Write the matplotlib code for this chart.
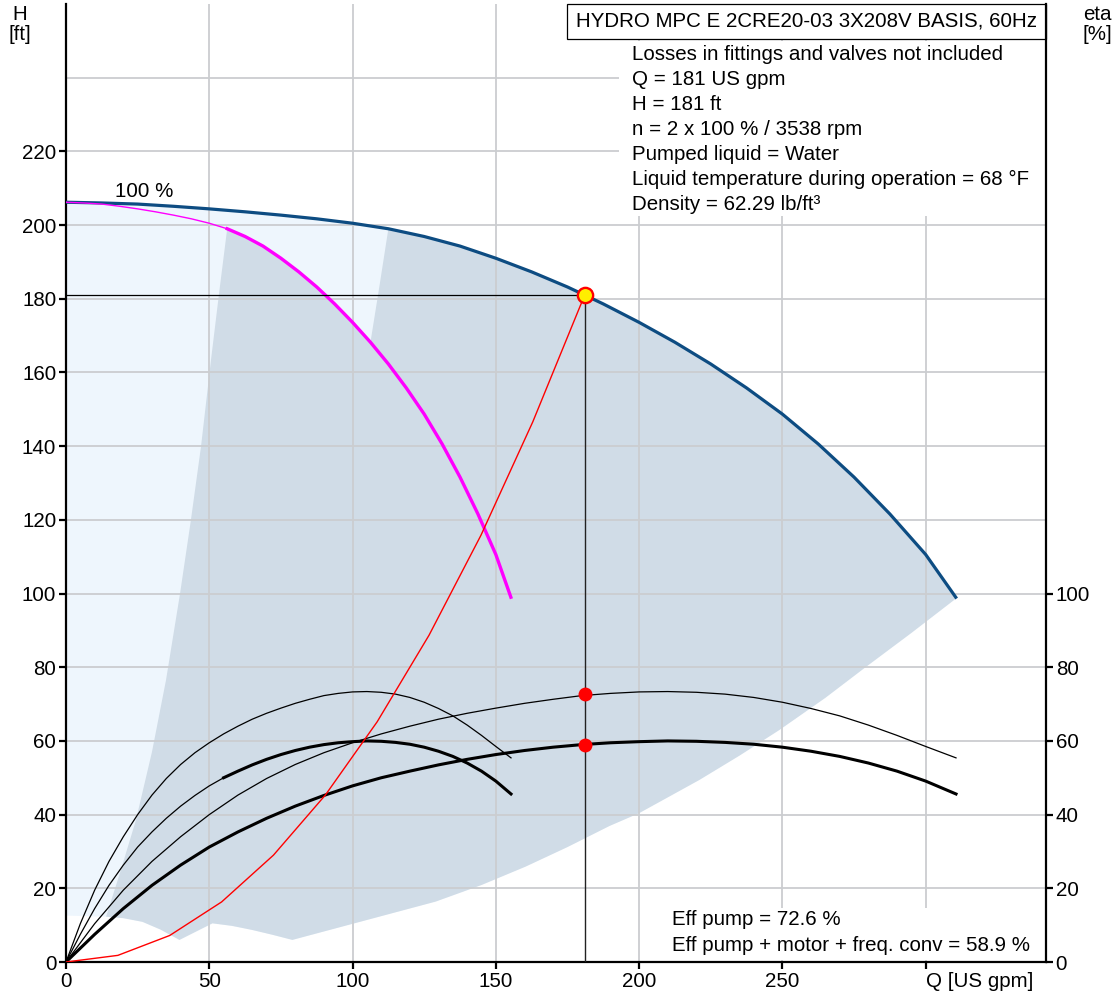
import matplotlib.pyplot as plt
from matplotlib.patches import Rectangle

plt.rcParams['font.family'] = ['Liberation Sans', 'DejaVu Sans']

# pump curve, 2 pumps at 100 %
q_pump2 = [0, 12.5, 25, 37.5, 50, 62.5, 75, 87.5, 100, 112.5, 125, 137.5, 150, 162.5, 175, 181,
           187.5, 200, 212.5, 225, 237.5, 250, 262.5, 275, 287.5, 300, 310.5]
h_pump2 = [206.2, 206.0, 205.7, 205.1, 204.4, 203.6, 202.7, 201.7, 200.5, 199.0, 196.9, 194.3, 191.0,
           187.3, 183.2, 181.0, 178.6, 173.6, 168.2, 162.3, 155.8, 148.7, 140.6, 131.6, 121.6, 110.6, 99.0]

# pump curve, 1 pump (magenta), thin up to 56.25 then thick
q_pump1 = [0, 6.25, 12.5, 18.75, 25, 31.25, 37.5, 43.75, 50, 56.25, 62.5, 68.75, 75, 81.25, 87.5, 90.5,
           93.75, 100, 106.25, 112.5, 118.75, 125, 131.25, 137.5, 143.75, 150, 155.25]
h_pump1 = [206.2, 206.0, 205.7, 205.1, 204.4, 203.6, 202.7, 201.7, 200.5, 199.0, 196.9, 194.3, 191.0,
           187.3, 183.2, 181.0, 178.6, 173.6, 168.2, 162.3, 155.8, 148.7, 140.6, 131.6, 121.6, 110.6, 99.0]

# efficiency curves (eta axis uses same scale as H)
q_eta1 = [0, 5, 10, 15, 20, 25, 30, 35, 40, 45, 50, 55, 60, 65, 70, 75, 80, 85, 90, 95, 100,
          105, 110, 115, 120, 125, 130, 135, 140, 145, 150, 155.3]
eta_pump1 = [0, 10.4, 19.5, 27.3, 34.0, 40.0, 45.3, 49.8, 53.6, 56.8, 59.5, 61.9, 64.0, 65.9, 67.5,
             68.9, 70.2, 71.3, 72.3, 72.9, 73.3, 73.4, 73.2, 72.7, 71.8, 70.5, 68.8, 66.8, 64.3,
             61.5, 58.5, 55.4]
eta_tot1 = [0, 7.5, 14.5, 20.8, 26.3, 31.2, 35.3, 39.0, 42.3, 45.2, 47.8, 50.0, 51.8, 53.5, 55.0,
            56.3, 57.4, 58.3, 59.0, 59.5, 59.8, 60.0, 59.9, 59.6, 59.1, 58.3, 57.2, 55.8, 54.0,
            51.8, 49.1, 45.6]

q_eta2 = [0, 10, 20, 30, 40, 50, 60, 70, 80, 90, 100, 110, 120, 130, 140, 150, 160, 170, 180, 190,
          200, 210, 220, 230, 240, 250, 260, 270, 280, 290, 300, 310.6]
eta_pump2 = [0, 10.4, 19.5, 27.3, 34.0, 40.0, 45.3, 49.8, 53.6, 56.8, 59.5, 61.9, 64.0, 65.9, 67.5,
             68.9, 70.2, 71.3, 72.3, 72.9, 73.3, 73.4, 73.2, 72.7, 71.8, 70.5, 68.8, 66.8, 64.3,
             61.5, 58.5, 55.4]
eta_tot2 = [0, 7.5, 14.5, 20.8, 26.3, 31.2, 35.3, 39.0, 42.3, 45.2, 47.8, 50.0, 51.8, 53.5, 55.0,
            56.3, 57.4, 58.3, 59.0, 59.5, 59.8, 60.0, 59.9, 59.6, 59.1, 58.3, 57.2, 55.8, 54.0,
            51.8, 49.1, 45.6]

# system curve through duty point
q_sys = [0, 18.1, 36.2, 54.3, 72.4, 90.5, 108.6, 126.7, 144.8, 162.9, 181]
h_sys = [0, 1.8, 7.2, 16.3, 29.0, 45.3, 65.2, 88.7, 115.8, 146.6, 181]

# operating range outline
q_bottom = [0, 14, 20, 26.7, 33, 39.6, 51.1, 58, 65, 72, 79, 129, 145, 160.4, 175, 189.6, 200, 221,
            235, 249, 265, 279, 295, 310.5]
h_bottom = [12.6, 12.3, 11.9, 10.9, 8.8, 6.0, 10.5, 9.8, 8.7, 7.4, 6.0, 16.4, 20.9, 25.9, 31.2,
            36.9, 40.4, 49.4, 56.0, 63.0, 71.7, 80.0, 89.3, 98.6]
q_left1 = [14, 19, 24.4, 30, 34.9, 39.8, 43.6, 47.1, 50.6, 53.5, 56.25]
h_left1 = [12.3, 24.6, 38.5, 57, 76.5, 100, 120, 139.8, 163.4, 182, 199.0]
q_left2 = [106.25, 109.4, 112.5]
h_left2 = [168.2, 183.5, 199.0]

q_duty, h_duty = 181, 181
eff_pump, eff_total = 72.6, 58.9

info_lines = [
    'Losses in fittings and valves not included',
    'Q = 181 US gpm',
    'H = 181 ft',
    'n = 2 x 100 % / 3538 rpm',
    'Pumped liquid = Water',
    'Liquid temperature during operation = 68 °F',
    'Density = 62.29 lb/ft³',
]

fig = plt.figure(figsize=(11.16, 9.94), dpi=100)
ax = fig.add_axes([66 / 1116, 32 / 994, 980 / 1116, 958 / 994])
ax.set_xlim(0, 342)
ax.set_ylim(0, 260)

grid_c = '#cbcdd0'
fs = 14.8

# shaded areas
ax.fill(q_pump2 + q_bottom[::-1], h_pump2 + h_bottom[::-1], color='#eef6fd', lw=0, zorder=0.2)
i_mag0 = q_pump1.index(56.25)
i_mag1 = q_pump1.index(106.25)
i_top = q_pump2.index(112.5)
gx = q_left1 + q_pump1[i_mag0 + 1:i_mag1] + q_left2 + q_pump2[i_top + 1:] + q_bottom[::-1][:-2]
gy = h_left1 + h_pump1[i_mag0 + 1:i_mag1] + h_left2 + h_pump2[i_top + 1:] + h_bottom[::-1][:-2]
ax.fill(gx, gy, color='#d0dce7', lw=0, zorder=0.3)

# grid
ax.set_axisbelow(True)
ax.grid(True, color=grid_c, lw=1.3)
ax.axhline(240, color=grid_c, lw=1.3, zorder=0.5)

# white boxes for texts
ax.add_patch(Rectangle((193, 202.4), 149, 47.5, facecolor='white', edgecolor='none', zorder=2))
ax.add_patch(Rectangle((207, 0.6), 135, 14.1, facecolor='white', edgecolor='none', zorder=2))
ax.add_patch(Rectangle((175, 250.6), 167, 9.4, facecolor='white', edgecolor='black', lw=0.9, zorder=2,
                       clip_on=False))

# curves
ax.plot(q_pump2, h_pump2, color='#0d4c82', lw=2.3, zorder=4)
ax.plot(q_pump1[:i_mag0 + 1], h_pump1[:i_mag0 + 1], color='#ff00ff', lw=1.0, zorder=4)
ax.plot(q_pump1[i_mag0:], h_pump1[i_mag0:], color='#ff00ff', lw=2.4, zorder=4)

ax.plot(q_eta1, eta_pump1, color='black', lw=0.9, zorder=4)
i_t = q_eta1.index(55)
ax.plot(q_eta1[:i_t + 1], eta_tot1[:i_t + 1], color='black', lw=0.9, zorder=4)
ax.plot(q_eta1[i_t:], eta_tot1[i_t:], color='black', lw=2.2, zorder=4)
ax.plot(q_eta2, eta_pump2, color='black', lw=0.9, zorder=4)
ax.plot(q_eta2, eta_tot2, color='black', lw=2.2, zorder=4)

ax.plot(q_sys, h_sys, color='#ff0000', lw=1.0, zorder=5)

# duty point lines and markers
ax.plot([0, q_duty], [h_duty, h_duty], color='black', lw=0.9, zorder=5)
ax.plot([q_duty, q_duty], [0, h_duty], color='#222222', lw=1.0, zorder=5)
ax.plot([q_duty, q_duty], [eff_pump, eff_total], 'o', color='#ff0000', ms=10, mec='none', zorder=6)
ax.plot(q_duty, h_duty, 'o', color='#ffee00', ms=11, mec='#ff0000', mew=1.7, zorder=7)

# texts
ax.text(27.4, 209.2, '100 %', fontsize=fs, ha='center', va='center', zorder=6)
ax.text(258.5, 255.4, 'HYDRO MPC E 2CRE20-03 3X208V BASIS, 60Hz', fontsize=fs,
        ha='center', va='center', zorder=6)
for i, line in enumerate(info_lines):
    ax.text(197.5, 246.4 - i * 6.8, line, fontsize=fs, ha='left', va='center', zorder=6)
ax.text(211.5, 11.6, f'Eff pump = {eff_pump} %', fontsize=fs, ha='left', va='center', zorder=6)
ax.text(211.5, 4.6, f'Eff pump + motor + freq. conv = {eff_total} %', fontsize=fs,
        ha='left', va='center', zorder=6)

# axes styling
for s in ['left', 'bottom', 'right']:
    ax.spines[s].set_linewidth(1.6)
ax.spines['top'].set_visible(False)
ax.set_yticks(range(0, 221, 20))
ax.set_xticks(range(0, 301, 50))
ax.set_xticklabels(['0', '50', '100', '150', '200', '250', 'Q [US gpm]'])
ax.get_xticklabels()[-1].set_horizontalalignment('left')
ax.tick_params(labelsize=fs, width=1.6, length=5, pad=2)

ax2 = ax.twinx()
ax2.set_position(ax.get_position())
ax2.set_ylim(0, 260)
ax2.set_yticks(range(0, 101, 20))
ax2.tick_params(labelsize=fs, width=1.6, length=5, pad=2)
for s in ['left', 'bottom', 'right', 'top']:
    ax2.spines[s].set_visible(False)

fig.text(20 / 1116, 1 - 15 / 994, 'H', fontsize=fs, ha='center', va='center')
fig.text(20 / 1116, 1 - 35 / 994, '[ft]', fontsize=fs, ha='center', va='center')
fig.text(1097 / 1116, 1 - 15 / 994, 'eta', fontsize=fs, ha='center', va='center')
fig.text(1097 / 1116, 1 - 35 / 994, '[%]', fontsize=fs, ha='center', va='center')

fig.savefig('out.png', dpi=100)
